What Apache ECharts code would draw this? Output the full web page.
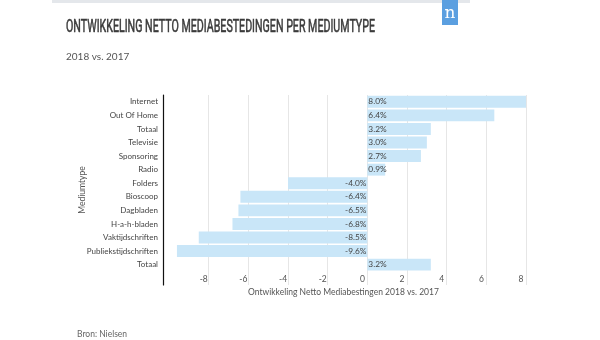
<!DOCTYPE html>
<html><head><meta charset="utf-8">
<script src="https://cdn.jsdelivr.net/npm/echarts@6/dist/echarts.min.js"></script>
<style>html,body{margin:0;padding:0;background:#fff}#c{width:600px;height:340px}</style>
</head><body><div id="c"></div>
<script>
var categories = ['Internet','Out Of Home','Totaal','Televisie','Sponsoring','Radio','Folders','Bioscoop','Dagbladen','H-a-h-bladen','Vaktijdschriften','Publiekstijdschriften','Totaal'];
var values = [8.0, 6.4, 3.2, 3.0, 2.7, 0.9, -4.0, -6.4, -6.5, -6.8, -8.5, -9.6, 3.2];
var xTicks = [-8, -6, -4, -2, 0, 2, 4, 6, 8];

var titleText = 'ONTWIKKELING NETTO MEDIABESTEDINGEN PER MEDIUMTYPE';
var titleFont = '18.5px Roboto';
var ctx = document.createElement('canvas').getContext('2d');
ctx.font = titleFont;
var tw = ctx.measureText(titleText).width;
var sx = 309 / tw;

var F = 'Lato';
var chart = echarts.init(document.getElementById('c'), null, {renderer: 'canvas'});
var yCats = categories.concat(['']);
var option = {
  animation: false,
  backgroundColor: '#fff',
  grid: {left: 169, right: 68, top: 95, bottom: 55, containLabel: false},
  xAxis: {
    type: 'value', min: -10, max: 8.3, interval: 2,
    name: 'Ontwikkeling Netto Mediabestingen 2018 vs. 2017',
    nameLocation: 'middle', nameGap: 7, nameMoveOverlap: false,
    nameTextStyle: {fontFamily: F, fontSize: 8.5, color: '#555', padding: [0, 14, 0, 0], verticalAlign: 'middle'},
    axisLine: {show: false}, axisTick: {show: false},
    axisLabel: {inside: true, margin: 1, fontFamily: F, fontSize: 8.5, color: '#555',
      showMinLabel: false, showMaxLabel: false, padding: [0, 10, 0, 0],
      formatter: function (v) { return xTicks.indexOf(v) >= 0 ? String(v) : ''; }},
    splitLine: {show: true, showMinLine: false, showMaxLine: false, lineStyle: {color: '#e6e6e6', width: 1}}
  },
  yAxis: {
    type: 'category', data: yCats, inverse: true, offset: 6,
    name: 'Mediumtype', nameLocation: 'middle', nameGap: 76, nameRotate: 90, nameMoveOverlap: false,
    nameTextStyle: {fontFamily: F, fontSize: 8.5, color: '#555'},
    axisLine: {show: true, onZero: false, lineStyle: {color: '#111', width: 1.2}},
    axisTick: {show: false},
    axisLabel: {fontFamily: F, fontSize: 8, color: '#444', margin: 5},
    splitLine: {show: false}
  },
  series: [{
    type: 'bar',
    data: values.map(function (v) {
      return {value: v, label: {position: v >= 0 ? 'insideLeft' : 'insideRight'}};
    }),
    barCategoryGap: '12%',
    itemStyle: {color: '#c9e6f8'},
    label: {show: true, distance: 1, fontFamily: F, fontSize: 8.3, color: '#444',
      formatter: function (p) { return p.value.toFixed(1) + '%'; }}
  }],
  graphic: [
    {type: 'rect', shape: {x: 52, y: 0, width: 418, height: 3}, style: {fill: '#e4e7eb'}},
    {type: 'rect', shape: {x: 442, y: 0, width: 16, height: 25}, style: {fill: '#5b9fe0'}},
    {type: 'text', x: 450, y: 14, style: {text: 'n', fill: '#fff', font: '17px "DejaVu Serif"', align: 'center', verticalAlign: 'middle'}},
    {type: 'text', x: 66, y: 27.5, scaleX: sx, style: {text: titleText, fill: '#3a3a3a', stroke: '#3a3a3a', lineWidth: 0.6, font: titleFont, verticalAlign: 'middle'}},
    {type: 'text', x: 66, y: 57, style: {text: '2018 vs. 2017', fill: '#555', font: '10px ' + F, verticalAlign: 'middle'}},
    {type: 'text', x: 77, y: 334, style: {text: 'Bron: Nielsen', fill: '#666', font: '8.5px ' + F, verticalAlign: 'middle'}}
  ]
};
chart.setOption(option);
</script></body></html>
